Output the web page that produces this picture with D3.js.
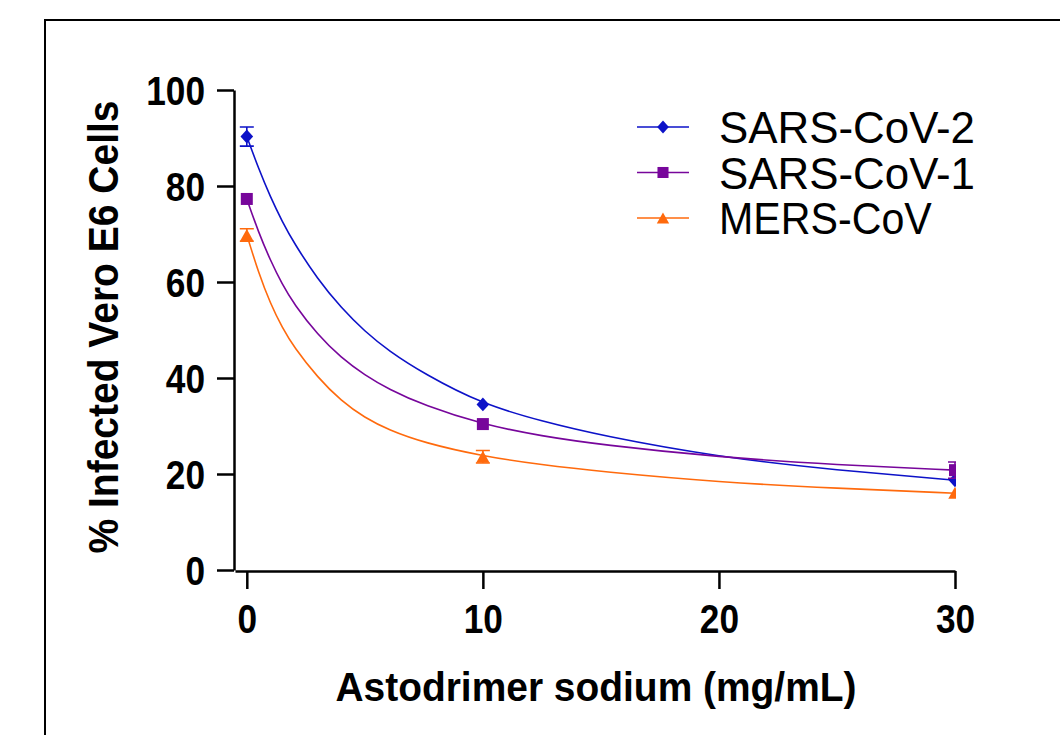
<!DOCTYPE html>
<html>
<head>
<meta charset="utf-8">
<script src="https://cdn.jsdelivr.net/npm/d3@7"></script>
<style>
  body { margin: 0; background: #fff; }
  svg { display: block; font-family: "Liberation Sans", Arial, sans-serif; }
</style>
</head>
<body>
<svg id="canvas" width="1060" height="735"></svg>
<script>
// measured points (dose in mg/mL, % infected cells); 0 = bar hidden by the symbol
const doses = [0, 10, 30];
const seriesNames = ["SARS-CoV-2", "SARS-CoV-1", "MERS-CoV"];
const sars2Mean = [90.3, 34.5, 18.7];
const sars2Err  = [2.0, 0, 0];
const sars1Mean = [77.3, 30.4, 20.8];
const sars1Err  = [0, 0, 1.7];
const mersMean  = [69.8, 23.6, 16.1];
const mersErr   = [1.3, 1.3, 0];

// fitted curves
const curveX     = [0, 0.5, 1, 1.5, 2, 3, 4, 5, 6, 7.5, 10, 12.5, 15, 20, 25, 30];
const sars2Curve = [90.3, 83.6, 77.7, 72.6, 68.1, 60.6, 54.6, 49.7, 45.7, 40.9, 34.5, 31.0, 28.0, 23.5, 20.8, 18.7];
const sars1Curve = [77.3, 70.3, 64.5, 59.5, 55.4, 49, 44.2, 40.6, 37.7, 34.3, 30.3, 27.9, 26.1, 23.5, 21.9, 20.8];
const mersCurve  = [69.8, 61.9, 55.5, 50.5, 46.4, 40.1, 35.2, 31.7, 29.2, 26.5, 23.7, 21.9, 20.5, 18.3, 17.0, 16.0];

const xTicks = [0, 10, 20, 30];
const yTicks = [0, 20, 40, 60, 80, 100];

const colors = ["#0d12c8", "#77069b", "#ff6a0d"];

let svg = d3.select("#canvas");

// outer frame (only top and left edges show)
svg.append("path").attr("d", "M45,735V20H1060").attr("fill", "none").attr("stroke", "#000").attr("stroke-width", 2);

const x = d3.scaleLinear().domain([-0.5, 30]).range([235, 955]);
const y = d3.scaleLinear().domain([0, 100]).range([570, 90]);

// Prism-like symbols, centred on their box
const diamond = {
  draw(ctx, size) {
    let r = Math.sqrt(size / 2);
    ctx.moveTo(0, -r * 1.1);
    ctx.lineTo(r, 0);
    ctx.lineTo(0, r * 1.1);
    ctx.lineTo(-r, 0);
    ctx.closePath();
  }
};
const triangle = {
  draw(ctx, size) {
    let h = Math.sqrt(size * 1.6);
    ctx.moveTo(0, -h / 2);
    ctx.lineTo(h * 0.56, h / 2);
    ctx.lineTo(-h * 0.56, h / 2);
    ctx.closePath();
  }
};
const shapes = [diamond, d3.symbolSquare, triangle];
const sizes = [80, 144, 90];

let series = [
  { name: seriesNames[0], mean: sars2Mean, err: sars2Err, curve: sars2Curve },
  { name: seriesNames[1], mean: sars1Mean, err: sars1Err, curve: sars1Curve },
  { name: seriesNames[2], mean: mersMean, err: mersErr, curve: mersCurve }
];

// axes
let yAxis = svg.append("g").attr("transform", "translate(234,0)")
  .call(d3.axisLeft(y).tickValues(yTicks).tickSize(17).tickSizeOuter(0).tickPadding(12));
let xAxis = svg.append("g").attr("transform", `translate(0,${y(0) + 1})`)
  .call(d3.axisBottom(x).tickValues(xTicks).tickSize(18).tickSizeOuter(0).tickPadding(14));

[yAxis, xAxis].forEach(a => {
  a.selectAll("path, line").attr("stroke", "#000").attr("stroke-width", 2.5);
  a.selectAll("text")
    .attr("fill", "#000")
    .style("font-size", "41px").style("font-weight", "bold")
    .attr("textLength", d => String(d).length * 19.6)
    .attr("lengthAdjust", "spacingAndGlyphs");
});
yAxis.selectAll("text").attr("dy", "0.36em");
xAxis.selectAll("text").attr("dy", "0.72em");

// clip marks at the end of the x axis
svg.append("clipPath").attr("id", "plotclip")
  .append("rect").attr("x", 0).attr("y", 0).attr("width", x(30) + 1).attr("height", 735);

let plot = svg.append("g").attr("clip-path", "url(#plotclip)");

let line = d3.line().x(d => x(d[0])).y(d => y(d[1])).curve(d3.curveBasis);

series.forEach((s, i) => {
  plot.append("path")
    .datum(curveX.map((cx, j) => [cx, s.curve[j]]))
    .attr("d", line)
    .attr("fill", "none")
    .attr("stroke", colors[i])
    .attr("stroke-width", 1.6);
});

series.forEach((s, i) => {
  let g = plot.append("g");
  doses.forEach((dv, j) => {
    let cx = x(dv);
    if (s.err[j] > 0) {
      let lo = y(s.mean[j] - s.err[j]), hi = y(s.mean[j] + s.err[j]);
      g.append("path")
        .attr("d", `M${cx},${lo}V${hi}M${cx - 7},${lo}H${cx + 7}M${cx - 7},${hi}H${cx + 7}`)
        .attr("fill", "none").attr("stroke", colors[i]).attr("stroke-width", 1.6);
    }
    g.append("path")
      .attr("d", d3.symbol().type(shapes[i]).size(sizes[i])())
      .attr("transform", `translate(${cx},${y(s.mean[j])})`)
      .attr("fill", colors[i]);
  });
});

// legend
let legend = svg.append("g");
series.forEach((s, i) => {
  let ly = 127 + i * 45.5;
  legend.append("line").attr("x1", 637).attr("x2", 689).attr("y1", ly).attr("y2", ly)
    .attr("stroke", colors[i]).attr("stroke-width", 1.6);
  legend.append("path")
    .attr("d", d3.symbol().type(shapes[i]).size(sizes[i] * 0.85)())
    .attr("transform", `translate(663,${ly})`)
    .attr("fill", colors[i]);
  legend.append("text").attr("x", 719).attr("y", ly + 16)
    .style("font-size", "44px").attr("fill", "#000")
    .attr("textLength", s.name.length * 25.6 + (s.name === "MERS-CoV" ? 8 : 0))
    .attr("lengthAdjust", "spacingAndGlyphs")
    .text(s.name);
});

// axis titles
svg.append("text")
  .attr("transform", "translate(118,327) rotate(-90)")
  .attr("text-anchor", "middle")
  .style("font-size", "42px").style("font-weight", "bold")
  .attr("textLength", 453).attr("lengthAdjust", "spacingAndGlyphs")
  .text("% Infected Vero E6 Cells");

svg.append("text")
  .attr("x", 596).attr("y", 701)
  .attr("text-anchor", "middle")
  .style("font-size", "41px").style("font-weight", "bold")
  .attr("textLength", 521).attr("lengthAdjust", "spacingAndGlyphs")
  .text("Astodrimer sodium (mg/mL)");
</script>
</body>
</html>
